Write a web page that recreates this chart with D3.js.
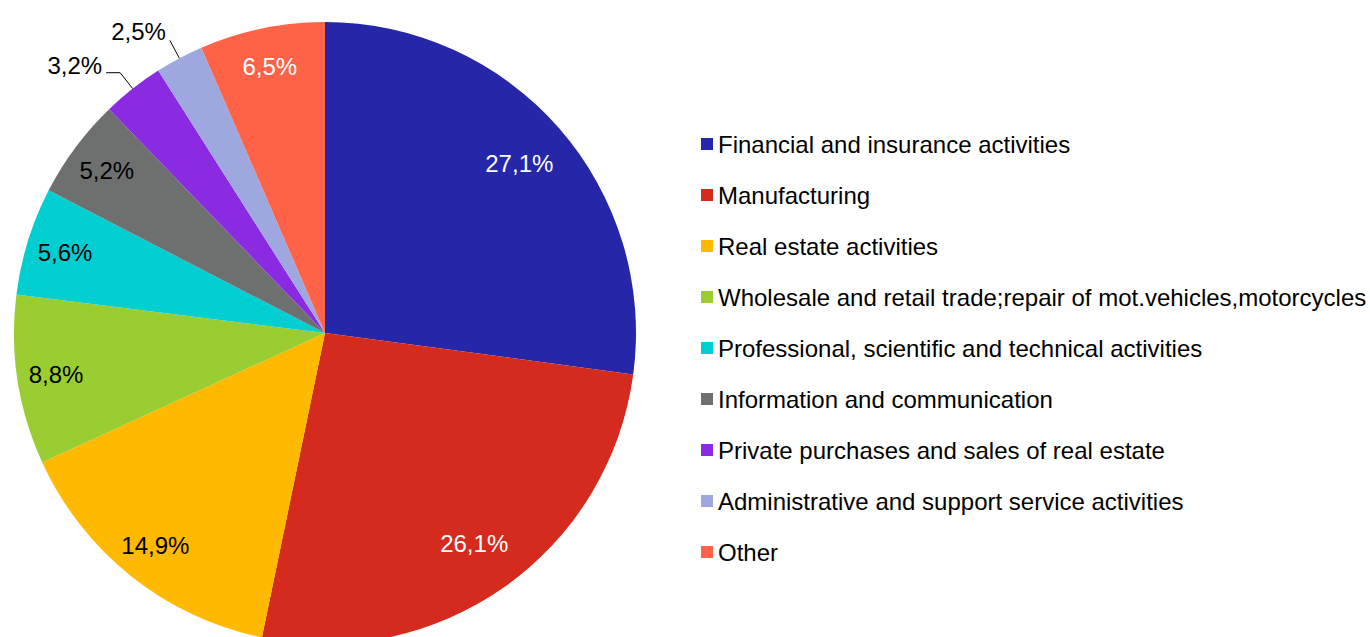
<!DOCTYPE html>
<html>
<head>
<meta charset="utf-8">
<script src="https://cdn.jsdelivr.net/npm/d3@7"></script>
<style>
  body { margin: 0; background: #fff; }
  text { font-family: "Liberation Sans", Arial, sans-serif; }
</style>
</head>
<body>
<div id="chart"></div>
<script>
var svgWidth = 1370;
var svgHeight = 637;

// data
var categories = [
  "Financial and insurance activities",
  "Manufacturing",
  "Real estate activities",
  "Wholesale and retail trade;repair of mot.vehicles,motorcycles",
  "Professional, scientific and technical activities",
  "Information and communication",
  "Private purchases and sales of real estate",
  "Administrative and support service activities",
  "Other"
];
var shares = [27.1, 26.1, 14.9, 8.8, 5.6, 5.2, 3.2, 2.5, 6.5];
var labels = ["27,1%", "26,1%", "14,9%", "8,8%", "5,6%", "5,2%", "3,2%", "2,5%", "6,5%"];
var colors = ["#2626a9", "#d52b1e", "#ffb900", "#9acd32", "#00ced1",
              "#6e7070", "#8a2be2", "#9fa8de", "#ff6347"];
var labelColors = ["#fff", "#fff", "#000", "#000", "#000", "#000", "#000", "#000", "#fff"];

var cx = 325, cy = 333, radius = 311;
var fontSize = 24;

var svg = d3.select("#chart")
  .append("svg")
  .attr("width", svgWidth)
  .attr("height", svgHeight);

var pieGroup = svg.append("g")
  .attr("transform", `translate(${cx}, ${cy})`);

var pie = d3.pie().sort(null).value(d => d);
var arcs = pie(shares);

var arc = d3.arc().innerRadius(0).outerRadius(radius);

pieGroup.selectAll("path")
  .data(arcs)
  .enter()
  .append("path")
  .attr("d", arc)
  .attr("fill", (d, i) => colors[i]);

// small slices get their label outside with a leader line
var outside = [6, 7];

function pointAt(angle, r) {
  return [Math.sin(angle) * r, -Math.cos(angle) * r];
}

arcs.forEach(function(d, i) {
  var mid = (d.startAngle + d.endAngle) / 2;
  if (outside.indexOf(i) >= 0) {
    var p0 = pointAt(mid, radius);
    var p1 = pointAt(mid, radius * 1.065);
    var pts = [p0, p1];
    var tx = p1[0] - 4, ty = p1[1];
    if (i === 6) {
      pts.push([p1[0] - 14, p1[1]]);
      tx = p1[0] - 18;
      ty = p1[1] + 1;
    }
    pieGroup.append("path")
      .attr("d", d3.line()(pts))
      .attr("fill", "none")
      .attr("stroke", "#000")
      .attr("stroke-width", 1);
    pieGroup.append("text")
      .attr("x", tx)
      .attr("y", ty)
      .attr("text-anchor", "end")
      .attr("font-size", fontSize)
      .attr("fill", "#000")
      .text(labels[i]);
  } else {
    // big slices keep their label a bit further in
    var r = d.data > 20 ? radius * 0.83 : radius * 0.875;
    var c = pointAt(mid, r);
    pieGroup.append("text")
      .attr("x", c[0])
      .attr("y", c[1])
      .attr("dy", "0.36em")
      .attr("text-anchor", "middle")
      .attr("font-size", fontSize)
      .attr("fill", labelColors[i])
      .text(labels[i]);
  }
});

// legend
var legendY = d3.scalePoint()
  .domain(categories)
  .range([144, 552]);

var legend = svg.append("g")
  .selectAll("g")
  .data(categories)
  .enter()
  .append("g")
  .attr("transform", d => `translate(701, ${legendY(d)})`);

legend.append("rect")
  .attr("x", 0)
  .attr("y", -6)
  .attr("width", 12)
  .attr("height", 12)
  .attr("fill", (d, i) => colors[i]);

legend.append("text")
  .attr("x", 17)
  .attr("y", 0)
  .attr("dy", "0.36em")
  .attr("font-size", fontSize)
  .attr("fill", "#000")
  .text(d => d);
</script>
</body>
</html>
